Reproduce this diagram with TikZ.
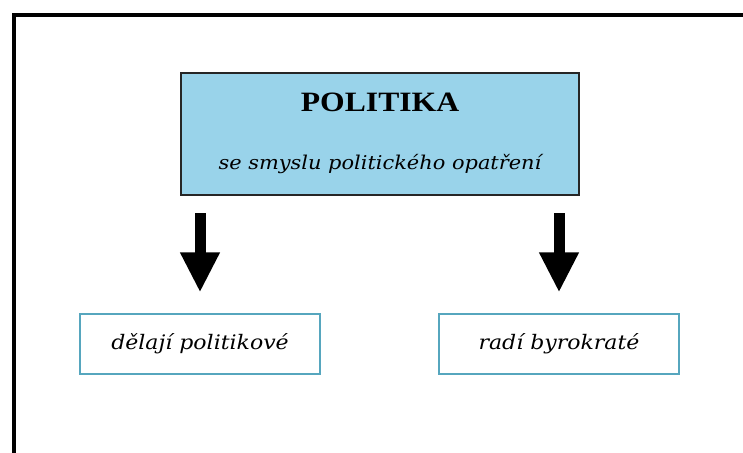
\documentclass[tikz,border=0pt]{standalone}
\usepackage{fontspec}
\setmainfont{Liberation Serif}
\newfontfamily\widebold[FakeStretch=1.13]{Liberation Serif}
\newfontfamily\slabit[FakeStretch=1.1]{DejaVu Serif}
\usetikzlibrary{arrows.meta}
\definecolor{skyfill}{RGB}{153,211,234}
\definecolor{tealedge}{RGB}{86,166,190}

\begin{document}
\begin{tikzpicture}[x=1pt,y=1pt,
  mainbox/.style={draw=black!85,line width=1.5pt,fill=skyfill,minimum width=398pt,minimum height=122pt,inner sep=0pt},
  subbox/.style={draw=tealedge,line width=1.2pt,fill=white,minimum width=240pt,minimum height=60pt,inner sep=0pt,font=\slabit\itshape\fontsize{20}{23}\selectfont},
  blockarrow/.style={line width=11pt,-{Triangle[width=37pt,length=40pt]}}]
\useasboundingbox (0,0) rectangle (743,452);
\fill[white] (0,0) rectangle (743,452);
% outer frame
\draw[line width=4pt] (14,-10) -- (14,437) -- (760,437);

\node[mainbox] (politika) at (380,318) {};
\node[font=\widebold\bfseries\fontsize{28}{31}\selectfont] (title) at ([yshift=-30pt]politika.north) {POLITIKA};
\node[anchor=base,font=\slabit\itshape\fontsize{19}{22}\selectfont] (sense) at ([yshift=-97pt]politika.north) {se smyslu politického opatření};

\node[subbox] (politici) at (200,108) {dělají politikové};
\node[subbox] (byrokrati) at (559,108) {radí byrokraté};

\draw[blockarrow] ([yshift=100pt]politici.north) -- ([yshift=21pt]politici.north);
\draw[blockarrow] ([yshift=100pt]byrokrati.north) -- ([yshift=21pt]byrokrati.north);
\end{tikzpicture}
\end{document}
